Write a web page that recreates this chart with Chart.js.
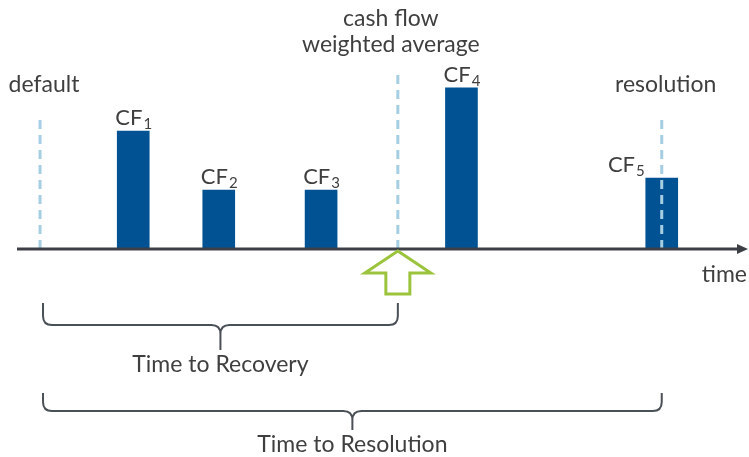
<!DOCTYPE html>
<html>
<head>
<meta charset="utf-8">
<script src="https://cdn.jsdelivr.net/npm/chart.js@4.4.0/dist/chart.umd.min.js"></script>
<style>
  body { margin: 0; background: #fff; }
  canvas { display: block; }
</style>
</head>
<body>
<canvas id="recovery" width="749" height="457"></canvas>
<script>
// cash flows along the time axis (arbitrary units)
const cfSubs = ['1', '2', '3', '4', '5'];
const cfTimes = [15.9, 27.6, 41.6, 60.8, 88.2];
const cfAmounts = [47.4, 23.7, 23.7, 64.7, 28.5];

// dashed event markers
const markerNames = [['default'], ['cash flow', 'weighted average'], ['resolution']];
const markerTimes = [3.15, 52.1, 88.2];
const markerHeights = [53.8, 71.9, 53.8];

const spanNames = ['Time to Recovery', 'Time to Resolution'];
const axisLabel = 'time';

const blue = '#005293';
const dashBlue = '#a6cee3';
const green = '#9bc43c';
const textGrey = '#3f3f3f';
const braceGrey = '#4b5057';

const markerSets = markerTimes.map((t, i) => ({
  type: 'line',
  order: 0,
  data: [{x: t, y: 0}, {x: t, y: markerHeights[i]}],
  borderColor: dashBlue,
  borderWidth: 3,
  borderDash: [9, 6],
  pointRadius: 0,
  clip: false
}));

function brace(ctx, x0, x1, yTop, yH, yTip) {
  const xm = (x0 + x1) / 2;
  const r = 9;
  ctx.beginPath();
  ctx.moveTo(x0, yTop);
  ctx.lineTo(x0, yH - r);
  ctx.quadraticCurveTo(x0, yH, x0 + r, yH);
  ctx.lineTo(xm - r, yH);
  ctx.quadraticCurveTo(xm, yH, xm, yH + r);
  ctx.lineTo(xm, yTip);
  ctx.moveTo(xm, yH + r);
  ctx.quadraticCurveTo(xm, yH, xm + r, yH);
  ctx.lineTo(x1 - r, yH);
  ctx.quadraticCurveTo(x1, yH, x1, yH - r);
  ctx.lineTo(x1, yTop);
  ctx.stroke();
}

const diagram = {
  id: 'diagram',
  afterDatasetsDraw(chart) {
    const {ctx, chartArea, scales: {x, y}} = chart;
    const y0 = y.getPixelForValue(0);
    ctx.save();

    // time axis with arrow head
    ctx.strokeStyle = '#3c4046';
    ctx.fillStyle = '#3c4046';
    ctx.lineWidth = 3;
    ctx.beginPath();
    ctx.moveTo(chartArea.left, y0);
    ctx.lineTo(chartArea.right - 8, y0);
    ctx.stroke();
    ctx.beginPath();
    ctx.moveTo(chartArea.right, y0);
    ctx.lineTo(chartArea.right - 11, y0 - 5);
    ctx.lineTo(chartArea.right - 11, y0 + 5);
    ctx.closePath();
    ctx.fill();

    // green arrow under the weighted average
    const xa = x.getPixelForValue(markerTimes[1]);
    ctx.strokeStyle = green;
    ctx.fillStyle = '#fff';
    ctx.lineWidth = 3;
    ctx.lineJoin = 'miter';
    ctx.beginPath();
    ctx.moveTo(xa, y0 + 2);
    ctx.lineTo(xa + 33, y0 + 24);
    ctx.lineTo(xa + 12, y0 + 24);
    ctx.lineTo(xa + 12, y0 + 45);
    ctx.lineTo(xa - 12, y0 + 45);
    ctx.lineTo(xa - 12, y0 + 24);
    ctx.lineTo(xa - 33, y0 + 24);
    ctx.closePath();
    ctx.fill();
    ctx.stroke();

    // braces
    const xd = x.getPixelForValue(markerTimes[0]) + 3;
    const xr = x.getPixelForValue(markerTimes[2]);
    ctx.strokeStyle = braceGrey;
    ctx.lineWidth = 2;
    brace(ctx, xd, xa, 303, 325, 350);
    brace(ctx, xd, xr, 393, 411, 430);

    // texts
    ctx.fillStyle = textGrey;
    ctx.textBaseline = 'alphabetic';
    ctx.font = '23px Lato';
    ctx.textAlign = 'center';
    ctx.fillText(spanNames[0], (xd + xa) / 2, 372);
    ctx.fillText(spanNames[1], (xd + xr) / 2, 452);
    ctx.textAlign = 'right';
    ctx.fillText(axisLabel, chartArea.right - 1, 282);

    // marker labels
    ctx.textAlign = 'center';
    const nudge = [4, -7, 4];
    markerNames.forEach((lines, i) => {
      const mx = x.getPixelForValue(markerTimes[i]) + nudge[i];
      const top = y.getPixelForValue(markerHeights[i]);
      lines.forEach((ln, k) => {
        ctx.fillText(ln, mx, top - 18 - 26 * (lines.length - 1 - k) - (lines.length === 1 ? 5 : 0));
      });
    });

    // CF labels with subscripts
    chart.getDatasetMeta(markerSets.length).data.forEach((bar, i) => {
      ctx.font = '22px Lato';
      const wMain = ctx.measureText('CF').width;
      ctx.font = '15px Lato';
      const wSub = ctx.measureText(cfSubs[i]).width;
      let left = bar.x - (wMain + wSub) / 2;
      if (i === cfSubs.length - 1) left = bar.x - bar.width / 2 - (wMain + wSub) - 2;
      const base = bar.y - 6;
      ctx.textAlign = 'left';
      ctx.font = '22px Lato';
      ctx.fillText('CF', left, base);
      ctx.font = '15px Lato';
      ctx.fillText(cfSubs[i], left + wMain + 1, base + 4);
    });

    ctx.restore();
  }
};

new Chart(document.getElementById('recovery'), {
  type: 'bar',
  data: {
    datasets: [
      ...markerSets,
      {
        type: 'bar',
        order: 1,
        data: cfTimes.map((t, i) => ({x: t, y: cfAmounts[i]})),
        backgroundColor: blue,
        barThickness: 32
      }
    ]
  },
  options: {
    responsive: false,
    animation: false,
    events: [],
    layout: { padding: { left: 17, right: 1, top: 0, bottom: 208 } },
    scales: {
      x: { type: 'linear', min: 0, max: 100, offset: false, display: false },
      y: { min: 0, max: 100, display: false }
    },
    plugins: {
      legend: { display: false },
      tooltip: { enabled: false }
    }
  },
  plugins: [diagram]
});
</script>
</body>
</html>
